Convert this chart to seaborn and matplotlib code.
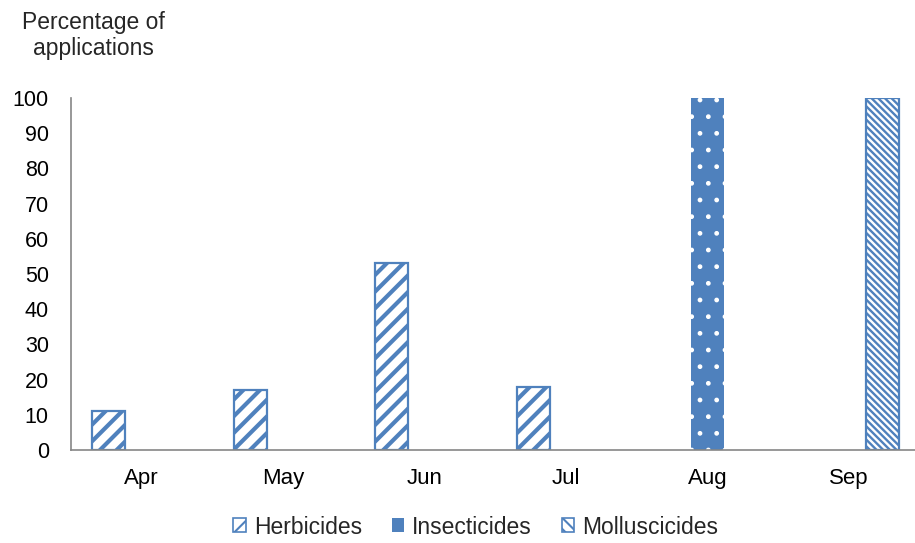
import matplotlib
matplotlib.use("Agg")
import matplotlib.pyplot as plt
import numpy as np
import pandas as pd
import seaborn as sns
from matplotlib.patches import Patch

months = ["Apr", "May", "Jun", "Jul", "Aug", "Sep"]
herbicides = [11, 17, 53, 18, 0, 0]
insecticides = [0, 0, 0, 0, 100, 0]
molluscicides = [0, 0, 0, 0, 0, 100]
series = ["Herbicides", "Insecticides", "Molluscicides"]

BLUE = "#4F81BD"
GREY = "#868686"

df = pd.DataFrame({"month": months * 3,
                   "value": herbicides + insecticides + molluscicides,
                   "kind": np.repeat(series, len(months))})

sns.set_theme(style="white")
plt.rcParams["font.family"] = ["Liberation Sans", "DejaVu Sans"]
plt.rcParams["hatch.linewidth"] = 3.0

W, H = 915, 543
fig = plt.figure(figsize=(W / 100, H / 100), dpi=100)
# plot area runs a few pixels past the right edge, as in the original
ax = fig.add_axes([71 / W, 1 - 450 / H, 849 / W, 352 / H])

sns.barplot(data=df, x="month", y="value", hue="kind", order=months,
            hue_order=series, width=0.7, gap=0, errorbar=None, legend=False, ax=ax)

# one container per hue: give each series its own fill / hatch
styles = {
    "Herbicides": dict(face="white", edge=BLUE, hatch="//", hlw=3.0, lw=1.6),
    "Insecticides": dict(face=BLUE, edge="white", hatch=".", hlw=1.0, lw=0),
    "Molluscicides": dict(face="white", edge=BLUE, hatch="\\" * 5, hlw=1.7, lw=1.6),
}


def set_hlw(p, w):
    if hasattr(p, "set_hatch_linewidth"):
        p.set_hatch_linewidth(w)
    else:
        p._hatch_linewidth = w


for cont, name in zip(ax.containers, series):
    st = styles[name]
    for p in cont:
        if p.get_height() == 0:
            p.set_visible(False)
            continue
        p.set_facecolor(st["face"])
        p.set_edgecolor(st["edge"])
        p.set_hatch(st["hatch"])
        set_hlw(p, st["hlw"])
        p.set_linewidth(st["lw"])

ax.set_ylim(0, 100)
ax.set_xlim(-0.5, len(months) - 0.5)
ax.set_yticks(range(0, 101, 10))
ax.set_xlabel("")
ax.set_ylabel("")
for s in ["top", "right"]:
    ax.spines[s].set_visible(False)
for s in ["left", "bottom"]:
    ax.spines[s].set_color(GREY)
    ax.spines[s].set_linewidth(1.2)
ax.tick_params(axis="y", labelsize=15.5, colors="black", length=0, pad=16)
ax.tick_params(axis="x", labelsize=16, colors="black", length=0, pad=13)
ax.set_xticks(np.arange(-0.5, len(months)), minor=True)
ax.tick_params(axis="x", which="minor", length=6, width=1.2, color=GREY, direction="out")

fig.text(93 / W, 1 - 11 / H, "Percentage of\napplications", ha="center", va="top",
         fontsize=16.5, linespacing=1.15)

handles = [Patch(facecolor="white", edgecolor=BLUE, hatch="//", linewidth=1.2, label="Herbicides"),
           Patch(facecolor=BLUE, edgecolor=BLUE, linewidth=0, label="Insecticides"),
           Patch(facecolor="white", edgecolor=BLUE, hatch="\\\\\\", linewidth=1.2,
                 label="Molluscicides")]
leg = fig.legend(handles=handles, loc="center", bbox_to_anchor=(0.52, 1 - 527 / H), ncol=3,
                 frameon=False, fontsize=16.5, handlelength=0.55, handleheight=0.55,
                 handletextpad=0.35, columnspacing=1.3)
for p in leg.get_patches():
    set_hlw(p, 1.5)

fig.savefig("out.png", dpi=100)
